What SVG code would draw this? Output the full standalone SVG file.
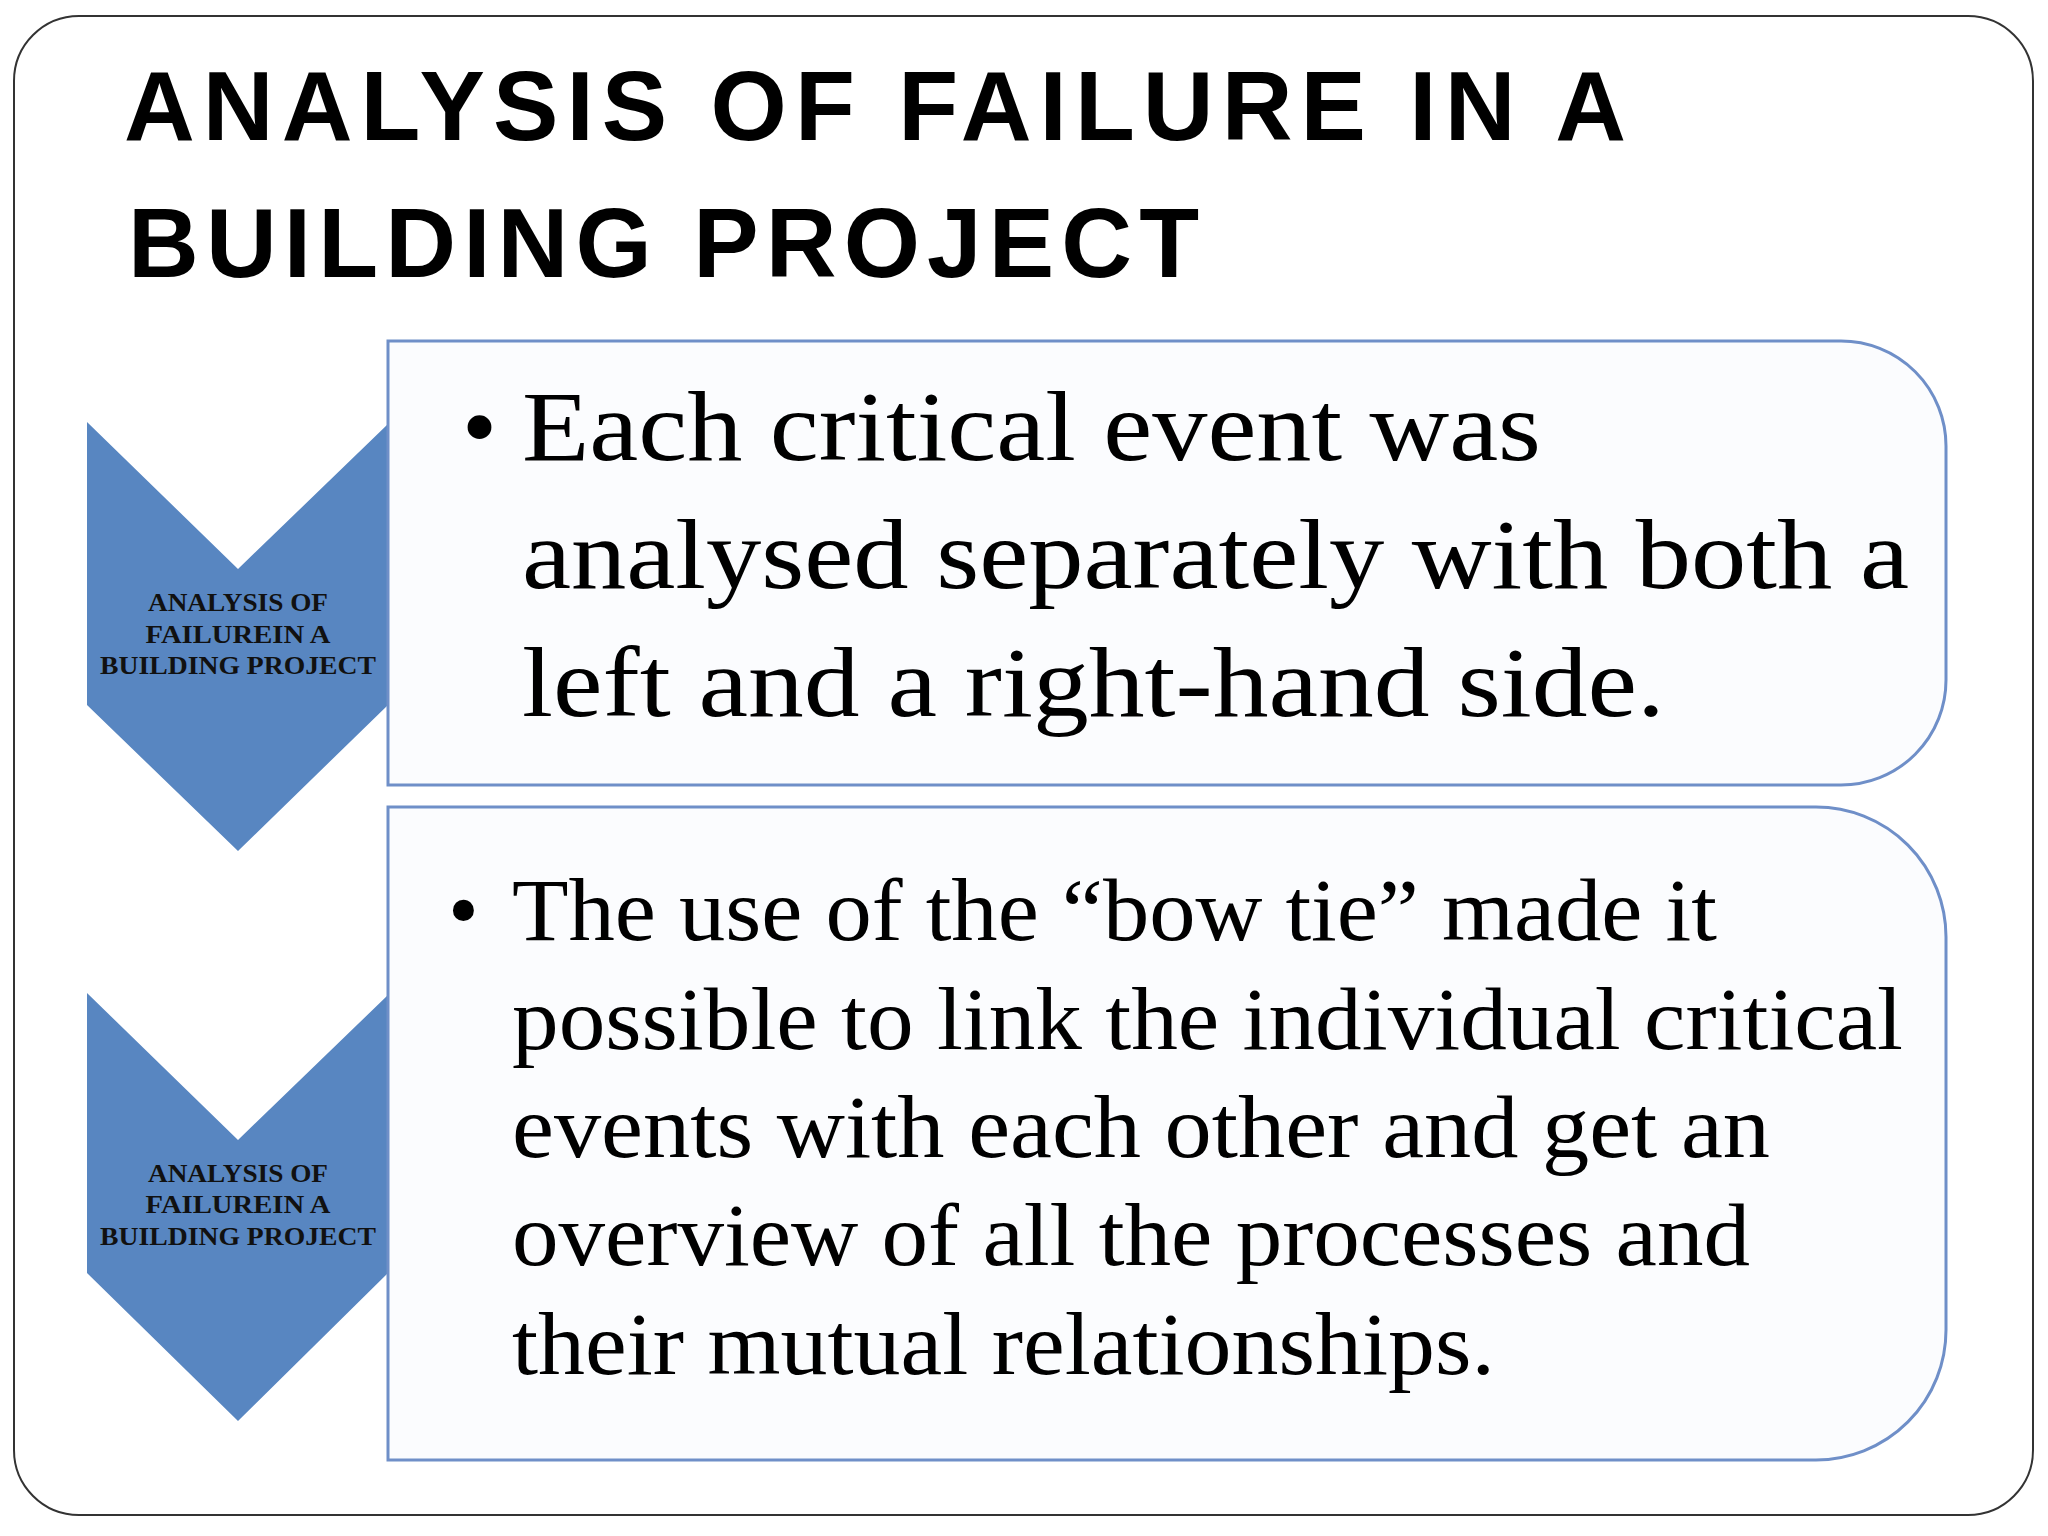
<svg xmlns="http://www.w3.org/2000/svg" width="2048" height="1536" viewBox="0 0 2048 1536">
<style>
.title{font-family:"Liberation Sans",Arial,sans-serif;font-weight:bold;font-size:98px;fill:#000}
.chev{fill:#5886c1}
.lbl{font-family:"Liberation Serif","Times New Roman",serif;font-weight:bold;font-size:26px;fill:#111;text-anchor:middle}
.box{fill:#fbfcfe;stroke:#6f8fc8;stroke-width:3}
.b1{font-family:"Liberation Serif","Times New Roman",serif;font-size:100px;fill:#000}
.b2{font-family:"Liberation Serif","Times New Roman",serif;font-size:88px;fill:#000}
</style>
<rect width="2048" height="1536" fill="#fff"/>
<rect x="14" y="16" width="2019" height="1499" rx="65" fill="#fff" stroke="#333" stroke-width="2"/>
<g id="title">
<text class="title" x="124" y="140" textLength="1502" lengthAdjust="spacing">ANALYSIS OF FAILURE IN A</text>
<text class="title" x="128" y="277" textLength="1071" lengthAdjust="spacing">BUILDING PROJECT</text>
</g>
<g id="chevron1">
<polygon class="chev" points="87,422 238,569 388,424 388,705 238,851 87,705"/>
<text class="lbl" x="238" y="611" textLength="180" lengthAdjust="spacingAndGlyphs">ANALYSIS OF</text>
<text class="lbl" x="238" y="643" textLength="185" lengthAdjust="spacingAndGlyphs">FAILUREIN A</text>
<text class="lbl" x="238" y="674" textLength="276" lengthAdjust="spacingAndGlyphs">BUILDING PROJECT</text>
</g>
<g id="chevron2">
<polygon class="chev" points="87,993 238,1140 388,995 388,1273 238,1421 87,1273"/>
<text class="lbl" x="238" y="1182" textLength="180" lengthAdjust="spacingAndGlyphs">ANALYSIS OF</text>
<text class="lbl" x="238" y="1213" textLength="185" lengthAdjust="spacingAndGlyphs">FAILUREIN A</text>
<text class="lbl" x="238" y="1245" textLength="276" lengthAdjust="spacingAndGlyphs">BUILDING PROJECT</text>
</g>
<g id="box1">
<path class="box" d="M388,341 H1841 A105,105 0 0 1 1946,446 V680 A105,105 0 0 1 1841,785 H388 Z"/>
<text class="b1" x="462" y="460">•</text>
<text class="b1" x="522" y="460" textLength="1019" lengthAdjust="spacingAndGlyphs">Each critical event was</text>
<text class="b1" x="522" y="588" textLength="1387" lengthAdjust="spacingAndGlyphs">analysed separately with both a</text>
<text class="b1" x="522" y="716" textLength="1143" lengthAdjust="spacingAndGlyphs">left and a right-hand side.</text>
</g>
<g id="box2">
<path class="box" d="M388,807 H1816 A130,130 0 0 1 1946,937 V1330 A130,130 0 0 1 1816,1460 H388 Z"/>
<text class="b2" x="448" y="940">•</text>
<text class="b2" x="512" y="940" textLength="1205" lengthAdjust="spacingAndGlyphs">The use of the “bow tie” made it</text>
<text class="b2" x="512" y="1049" textLength="1391" lengthAdjust="spacingAndGlyphs">possible to link the individual critical</text>
<text class="b2" x="512" y="1157" textLength="1258" lengthAdjust="spacingAndGlyphs">events with each other and get an</text>
<text class="b2" x="512" y="1265" textLength="1238" lengthAdjust="spacingAndGlyphs">overview of all the processes and</text>
<text class="b2" x="512" y="1374" textLength="983" lengthAdjust="spacingAndGlyphs">their mutual relationships.</text>
</g>
<g id="connectors"/>
</svg>
